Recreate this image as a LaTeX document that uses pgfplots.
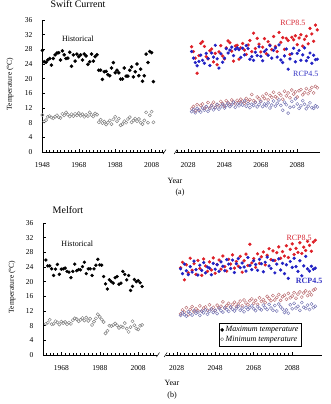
\documentclass[border=0pt]{standalone}
\usepackage{pgfplots}
\pgfplotsset{compat=1.18}
\usepackage{pgfplotstable}
\usepackage{fontspec}
\setmainfont{Liberation Serif}

\definecolor{histmin}{RGB}{128,128,128}
\definecolor{hiMax}{RGB}{222,32,40}
\definecolor{loMax}{RGB}{34,34,196}
\definecolor{hiMin}{RGB}{188,112,116}
\definecolor{loMin}{RGB}{118,118,180}
\definecolor{hiTxt}{RGB}{214,40,52}
\definecolor{loTxt}{RGB}{52,52,196}

% ---------- Swift Current: observed summer extremes ----------
\pgfplotstableread{
yr tmax tmin
1948 27.7 10.1
1949 24.6 8.3
1950 24.5 8.7
1951 25.1 9.6
1952 25.5 9.8
1953 23.7 9.4
1954 25.5 9.2
1955 26.5 9.6
1956 27.0 10.0
1957 27.1 9.5
1958 25.1 9.3
1959 27.6 10.4
1960 26.5 10.0
1961 25.5 10.8
1962 25.6 10.2
1963 27.2 9.7
1964 23.4 10.3
1965 26.5 9.8
1966 24.8 10.4
1967 26.7 10.0
1968 26.0 10.6
1969 26.5 9.9
1970 25.1 10.3
1971 26.7 9.6
1972 26.2 10.1
1973 23.9 9.8
1974 24.6 10.8
1975 26.7 10.1
1976 24.8 9.7
1977 26.0 10.5
1978 26.5 10.2
1979 22.3 8.1
1980 22.3 8.8
1981 19.8 7.9
1982 21.9 8.3
1983 22.0 7.5
1984 21.1 8.0
1985 20.8 8.6
1986 22.9 7.6
1987 24.4 8.9
1988 21.6 9.6
1989 22.3 8.4
1990 21.6 9.1
1991 19.9 7.3
1992 19.9 7.6
1993 22.9 8.4
1994 20.7 8.0
1995 20.7 9.0
1996 22.3 9.5
1997 23.2 8.1
1998 20.5 8.6
1999 21.9 9.1
2000 24.0 8.4
2001 20.8 9.0
2002 22.6 8.0
2003 19.3 7.6
2004 20.8 8.6
2005 26.7 10.8
2006 24.4 8.0
2007 27.4 10.0
2008 27.1 11.0
2009 19.2 8.1
}\histA

% ---------- Swift Current: projections (max/min under RCP8.5 and RCP4.5) ----------
\pgfplotstableread{
yr hmax lmax hmin lmin
2030 28.7 27.4 11.8 11.0
2031 27.4 25.6 12.4 11.6
2032 25.6 24.4 11.2 10.7
2033 21.5 23.5 12.9 11.9
2034 26.3 24.7 11.5 11.3
2035 29.6 26.4 12.7 10.9
2036 30.1 25.0 13.1 12.0
2037 28.8 24.2 11.9 11.4
2038 26.0 26.9 12.3 12.4
2039 25.4 25.5 13.5 11.1
2040 27.6 23.6 12.0 11.8
2041 28.1 27.0 12.8 12.6
2042 24.6 25.9 13.6 11.5
2043 26.9 29.1 12.2 12.1
2044 23.8 25.4 13.0 12.9
2045 27.3 22.9 12.6 11.7
2046 29.0 26.8 13.8 12.3
2047 26.2 24.5 13.2 13.0
2048 25.4 25.6 12.5 12.0
2049 28.4 28.2 14.0 12.7
2050 30.3 27.0 13.4 13.3
2051 29.8 27.8 12.9 12.4
2052 27.5 28.6 14.2 12.9
2053 24.8 26.3 13.6 13.6
2054 28.9 28.0 13.1 12.2
2055 29.1 28.4 14.1 13.1
2056 25.3 27.9 13.5 12.6
2057 28.4 25.8 14.4 13.4
2058 29.6 28.3 13.9 12.8
2059 27.8 26.5 13.3 13.9
2060 26.6 29.0 14.6 12.5
2061 29.2 28.2 13.8 13.2
2062 30.4 25.3 14.3 12.1
2063 27.4 26.0 15.7 13.0
2064 32.4 25.0 14.0 12.7
2065 28.2 27.2 13.6 13.5
2066 31.0 26.3 15.0 12.3
2067 29.4 28.7 14.5 12.9
2068 27.3 26.1 13.9 13.7
2069 28.6 24.9 15.2 12.4
2070 30.9 27.4 14.6 13.1
2071 26.8 27.9 15.9 12.6
2072 30.1 26.4 14.2 13.4
2073 29.2 29.0 15.4 12.0
2074 27.9 25.6 14.9 12.8
2075 31.5 27.7 16.3 13.9
2076 28.8 28.4 15.1 12.5
2077 27.4 25.9 14.7 13.3
2078 32.6 29.2 16.0 14.2
2079 29.9 25.1 15.5 12.7
2080 31.2 24.4 14.4 11.4
2081 28.0 26.2 16.6 13.6
2082 31.0 28.1 15.3 12.9
2083 30.4 22.6 16.1 10.6
2084 26.6 25.4 14.8 12.2
2085 31.3 26.8 16.9 13.8
2086 30.6 28.3 15.8 12.4
2087 31.7 24.6 16.4 14.5
2088 29.3 26.9 15.0 13.1
2089 31.1 27.7 16.7 11.9
2090 32.0 25.0 17.0 12.6
2091 28.9 26.5 15.6 14.0
2092 30.7 28.4 16.2 13.0
2093 31.6 24.9 17.3 11.8
2094 29.5 25.8 15.9 12.5
2095 33.7 27.0 16.8 13.4
2096 32.2 24.2 17.6 12.1
2097 30.2 26.4 16.1 11.9
2098 34.6 25.2 17.9 12.6
2099 33.3 25.3 17.5 12.3
}\projA

% ---------- Melfort: observed summer extremes ----------
\pgfplotstableread{
yr tmax tmin
1960 25.9 8.5
1961 24.3 8.8
1962 24.3 9.6
1963 23.5 8.4
1964 21.7 8.5
1965 23.4 9.2
1966 24.7 8.9
1967 22.0 8.3
1968 23.4 9.1
1969 23.5 8.7
1970 23.7 9.0
1971 22.8 8.4
1972 22.6 8.8
1973 21.1 8.5
1974 22.8 9.5
1975 24.8 10.0
1976 23.0 9.8
1977 23.3 9.2
1978 23.2 9.6
1979 24.1 10.1
1980 25.3 9.4
1981 22.2 10.2
1982 23.5 9.3
1983 23.5 9.9
1984 21.7 8.2
1985 23.5 9.1
1986 24.5 10.0
1987 26.1 11.1
1988 24.6 10.4
1989 24.5 9.7
1990 21.4 9.0
1991 19.4 5.9
1992 18.0 6.6
1993 20.5 8.0
1994 20.0 7.9
1995 19.6 8.2
1996 21.1 8.6
1997 21.4 8.1
1998 19.3 7.4
1999 19.6 7.8
2000 22.8 7.6
2001 22.0 8.7
2002 20.5 7.2
2003 21.7 6.3
2004 17.6 7.6
2005 18.7 9.2
2006 20.6 8.1
2007 20.0 7.2
2008 20.3 7.0
2009 19.7 8.0
2010 18.7 8.2
}\histB

% ---------- Melfort: projections (max/min under RCP8.5 and RCP4.5) ----------
\pgfplotstableread{
yr hmax lmax hmin lmin
2030 23.8 23.5 11.2 10.8
2031 25.3 22.2 12.3 11.5
2032 20.5 24.8 11.7 11.0
2033 24.6 23.0 12.9 10.6
2034 22.4 21.9 11.0 11.8
2035 26.4 24.1 12.4 11.3
2036 23.1 22.6 13.2 10.9
2037 24.9 25.6 11.8 12.1
2038 22.0 23.3 12.6 11.4
2039 25.8 21.8 12.1 11.7
2040 23.6 24.5 13.4 10.8
2041 21.7 23.1 11.9 12.0
2042 26.2 25.2 12.8 11.5
2043 24.3 22.4 13.1 12.3
2044 22.8 24.0 12.2 11.1
2045 25.4 23.7 13.7 11.9
2046 23.2 21.9 12.5 12.6
2047 26.5 25.0 13.0 11.6
2048 22.3 23.4 12.1 12.2
2049 24.7 24.6 13.6 11.3
2050 25.9 22.8 12.9 12.8
2051 23.4 25.4 13.3 12.1
2052 27.0 24.2 14.5 11.7
2053 24.1 23.0 12.8 12.9
2054 22.9 26.0 13.5 12.4
2055 26.1 24.8 14.1 11.9
2056 24.8 23.6 13.0 13.1
2057 27.3 25.9 13.8 12.5
2058 23.7 22.5 14.4 12.0
2059 25.5 24.9 13.2 12.7
2060 24.2 26.3 13.9 13.3
2061 26.9 23.8 14.7 12.2
2062 22.6 25.1 13.4 12.8
2063 25.7 24.0 15.0 11.8
2064 27.5 22.9 14.2 13.0
2065 24.4 26.6 13.7 12.4
2066 30.2 24.4 14.8 12.9
2067 25.1 23.3 15.3 13.4
2068 26.3 25.7 14.1 12.6
2069 23.9 24.7 14.9 12.1
2070 27.6 23.1 13.8 13.2
2071 25.0 26.1 15.6 12.7
2072 26.8 24.9 14.6 12.3
2073 28.1 22.7 15.1 13.6
2074 24.6 25.3 14.3 12.9
2075 27.2 26.7 16.0 12.4
2076 29.0 24.3 15.4 13.8
2077 26.0 23.6 14.8 12.8
2078 28.4 25.8 16.2 12.2
2079 25.8 22.4 15.0 13.5
2080 27.9 24.8 15.7 12.0
2081 29.5 26.2 16.5 13.9
2082 26.4 23.2 14.9 13.1
2083 28.2 25.0 15.9 12.5
2084 27.0 22.2 16.3 11.6
2085 29.8 24.6 15.2 12.3
2086 26.6 20.9 16.8 11.4
2087 28.8 25.5 15.6 13.7
2088 30.3 23.9 16.1 12.6
2089 27.4 26.4 17.0 14.1
2090 29.1 24.1 15.5 12.8
2091 28.0 22.8 16.6 13.3
2092 30.6 25.7 17.2 12.2
2093 27.7 21.6 15.8 14.3
2094 29.4 24.3 16.9 13.0
2095 28.5 26.9 17.5 12.7
2096 31.0 23.5 16.2 13.6
2097 29.9 22.9 17.1 12.4
2098 28.3 24.2 16.4 13.9
2099 30.8 23.4 17.7 12.9
2100 31.3 23.7 18.0 13.3
}\projB

\pgfplotsset{
  panel/.style={
    scale only axis, height=132pt,
    ymin=0, ymax=36, ytick={0,4,...,36},
    axis x line*=bottom, axis y line*=left,
    axis line style={-, line width=0.5pt, black},
    tick align=inside,
    major tick length=3pt, minor tick length=1.6pt,
    every tick/.append style={black, line width=0.45pt},
    xtick={1948,1968,...,2088},
    minor x tick num=9,
    tick label style={font=\fontsize{7.5}{8}\selectfont},
    xticklabel style={yshift=-7pt},
    yticklabel style={xshift=-6pt},
    /pgf/number format/assume math mode=true,
    /pgf/number format/1000 sep={},
    clip=false,
  },
  hmax/.style={only marks, mark=*, mark size=1.6pt, black, mark options={fill=black}},
  hmin/.style={only marks, mark=o, mark size=1.6pt, histmin, mark options={line width=0.45pt}},
  pmax/.style={only marks, mark=*, mark size=1.45pt, #1, mark options={fill=#1}},
  pmin/.style={only marks, mark=o, mark size=1.55pt, #1, mark options={line width=0.45pt}},
}

\newcommand{\lbl}{\fontsize{8}{9}\selectfont}

\begin{document}
\begin{tikzpicture}
\useasboundingbox (0,0) rectangle (330pt,-404pt);

% ===== (a) Swift Current =====
\begin{axis}[panel, width=278pt, xmin=1947.8, xmax=2100.5,
  at={(42pt,-152pt)}, anchor=south west]
  \addplot[hmax] table[x=yr, y=tmax] {\histA};
  \addplot[hmin] table[x=yr, y=tmin] {\histA};
  \addplot[pmin=hiMin] table[x=yr, y=hmin] {\projA};
  \addplot[pmin=loMin] table[x=yr, y=lmin] {\projA};
  \addplot[pmax=hiMax] table[x=yr, y=hmax] {\projA};
  \addplot[pmax=loMax] table[x=yr, y=lmax] {\projA};
  \node[font=\lbl] at (axis cs:1967.5,30.8) {Historical};
  \node[font=\lbl, text=hiTxt] at (axis cs:2085.6,35.2) {RCP8.5};
  \node[font=\lbl, text=loTxt] at (axis cs:2092.7,21.3) {RCP4.5};
  \coordinate (ba1) at (axis cs:2014.8,0);
  \coordinate (ba2) at (axis cs:2021.5,0);
\end{axis}
\fill[white] ([yshift=-1pt]ba1) rectangle ([yshift=4pt]ba2);
\draw[line width=0.45pt] ([xshift=-1pt,yshift=-2pt]ba1) -- ([xshift=2pt,yshift=2.5pt]ba1);
\draw[line width=0.45pt] ([xshift=-2pt,yshift=-2pt]ba2) -- ([xshift=1pt,yshift=2.5pt]ba2);

\node[font=\fontsize{10}{12}\selectfont] at (78pt,-4.5pt) {Swift Current};
\node[font=\fontsize{7.5}{9}\selectfont, rotate=90] at (10pt,-84pt) {Temperature (°C)};
\node[font=\lbl] at (175pt,-181pt) {Year};
\node[font=\lbl] at (180pt,-193pt) {(a)};

% ===== (b) Melfort =====
\begin{axis}[panel, width=279pt, xmin=1958.5, xmax=2103.5,
  at={(43pt,-355pt)}, anchor=south west,
  legend style={at={(0.631,0.242)}, anchor=north west, draw=black,
    line width=0.5pt, font=\itshape\fontsize{8}{9.5}\selectfont,
    inner sep=1.2pt, row sep=-1.5pt, cells={anchor=west}}]
  \addplot[hmax, mark size=1.5pt] table[x=yr, y=tmax] {\histB};
  \addlegendentry{Maximum temperature}
  \addplot[hmin] table[x=yr, y=tmin] {\histB};
  \addlegendentry{Minimum temperature}
  \addplot[pmin=hiMin] table[x=yr, y=hmin] {\projB};
  \addplot[pmin=loMin] table[x=yr, y=lmin] {\projB};
  \addplot[pmax=hiMax] table[x=yr, y=hmax] {\projB};
  \addplot[pmax=loMax] table[x=yr, y=lmax] {\projB};
  \node[font=\lbl] at (axis cs:1976.3,30.3) {Historical};
  \node[font=\lbl, text=hiTxt] at (axis cs:2091.6,31.9) {RCP8.5};
  \node[font=\lbl\bfseries, text=loTxt] at (axis cs:2096.8,20.2) {RCP4.5};
  \coordinate (bb1) at (axis cs:2018.0,0);
  \coordinate (bb2) at (axis cs:2022.5,0);
\end{axis}
\fill[white] ([yshift=-1pt]bb1) rectangle ([yshift=4pt]bb2);
\draw[line width=0.45pt] ([xshift=-1pt,yshift=-2pt]bb1) -- ([xshift=2pt,yshift=2.5pt]bb1);
\draw[line width=0.45pt] ([xshift=-2pt,yshift=-2pt]bb2) -- ([xshift=1pt,yshift=2.5pt]bb2);

\node[font=\fontsize{10}{12}\selectfont] at (68pt,-210pt) {Melfort};
\node[font=\fontsize{7.5}{9}\selectfont, rotate=90] at (12pt,-287pt) {Temperature (°C)};
\node[font=\lbl] at (172pt,-383pt) {Year};
\node[font=\lbl] at (172pt,-396pt) {(b)};
\end{tikzpicture}
\end{document}
